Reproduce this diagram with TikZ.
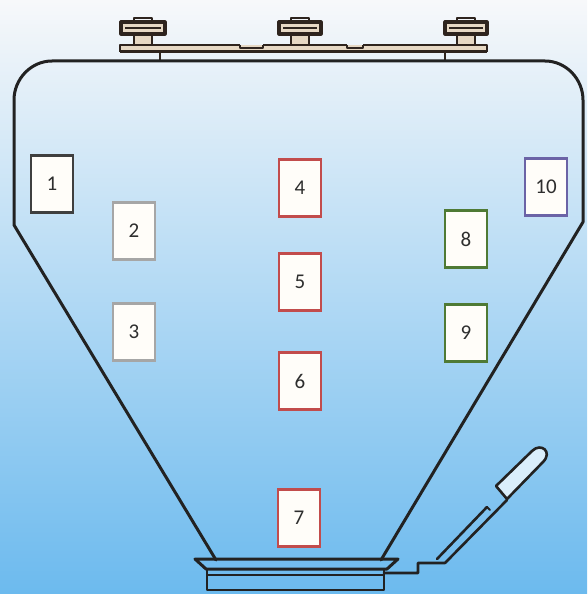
\documentclass[tikz,border=0pt]{standalone}
\usepackage{fontspec}
\setmainfont{Carlito}
\begin{document}
\begin{tikzpicture}[x=1pt,y=-1pt,
  wall/.style={draw=wallc,line width=3pt,line join=round,line cap=round},
  metal/.style={draw=brownc,line width=2.6pt,line join=round},
  part/.style={draw=wallc,line width=2.6pt,line join=round,line cap=round},
  tag/.style={rectangle,minimum width=42pt,minimum height=57pt,inner sep=0pt,
    fill=tagfill,line width=2.3pt,text=tagtext,
    font=\fontsize{21pt}{21pt}\selectfont}]
\definecolor{wallc}{HTML}{222222}
\definecolor{brownc}{HTML}{2E241E}
\definecolor{beige}{HTML}{E6D8C4}
\definecolor{tagfill}{HTML}{FFFDF9}
\definecolor{tagtext}{HTML}{2E2E2E}
\definecolor{bgtop}{HTML}{F7F8FA}
\definecolor{bgmid}{HTML}{C6E0F5}
\definecolor{bgbot}{HTML}{6CBAEE}
\definecolor{edgedark}{HTML}{3F3F3F}
\definecolor{edgegray}{HTML}{A6A6A6}
\definecolor{edgered}{HTML}{C24C4C}
\definecolor{edgegreen}{HTML}{4F7A35}
\definecolor{edgeviolet}{HTML}{6B63A6}

% background
\shade[top color=bgtop,middle color=bgmid,bottom color=bgbot] (0,0) rectangle (587,594);
\useasboundingbox (0,0) rectangle (587,594);

% lid plate
\fill[beige] (120,45) rectangle (487,52);
\draw[metal,line width=3pt] (120,52) -- (487,52);
\draw[metal] (120,52) -- (120,45) -- (240,45);
\draw[metal] (263,45) -- (347,45);
\draw[metal] (363,45) -- (487,45) -- (487,52);
\draw[metal,line width=1.8pt] (240,45) -- (240,48) -- (263,48) -- (263,45);
\draw[metal,line width=1.8pt] (347,45) -- (347,48) -- (363,48) -- (363,45);
\draw[metal,line width=2pt] (160,52) -- (160,61);
\draw[metal,line width=2pt] (445,52) -- (445,61);

% knobs on the lid
\foreach \cx/\hw in {143/22,300/21,466/21}{
  \draw[metal,fill=beige,line width=2.4pt] (\cx-9,34) rectangle (\cx+9,45);
  \draw[metal,fill=beige,line width=3.2pt] (\cx-\hw,22) rectangle (\cx+\hw,34);
  \draw[metal,line width=1.2pt] (\cx-\hw+4,28) -- (\cx+\hw-4,28);
  \draw[metal,line width=2.6pt] (\cx-9,22) -- (\cx-9,18) -- (\cx+9,18) -- (\cx+9,22);
}

% hopper body
\draw[wall] (216,560) -- (14,225) -- (14,100)
  .. controls (14,79) and (31,61) .. (52,61) -- (545,61)
  .. controls (566,61) and (583,79) .. (583,100) -- (583,222) -- (381,560);

% outlet flange
\draw[part,line width=3pt] (195,559) -- (398,559) -- (387,569) -- (206,569) -- cycle;
\draw[part] (207,569) rectangle (384,590);
\draw[part,line width=1.8pt] (207,575) -- (384,575);

% drain pipe with handle
\draw[part] (384,573) -- (418,573) -- (418,563) -- (445,563) -- (507,500);
\draw[part] (437,559) -- (487,507);
\draw[part,line width=2pt] (487,507) -- (490,510);
\draw[part,fill=white!75!bgbot] (507,499) -- (496,486) -- (532,451)
  .. controls (541,442) and (553,452) .. (543,462) -- cycle;

% numbered sensor tags
\node[tag,draw=edgedark]   (t1)  at (52,184)  {1};
\node[tag,draw=edgegray]   (t2)  at (134,231) {2};
\node[tag,draw=edgegray]   (t3)  at (134,332) {3};
\node[tag,draw=edgered]    (t4)  at (300,188) {4};
\node[tag,draw=edgered]    (t5)  at (300,282) {5};
\node[tag,draw=edgered]    (t6)  at (300,381) {6};
\node[tag,draw=edgered]    (t7)  at (299,518) {7};
\node[tag,draw=edgegreen]  (t8)  at (466,239) {8};
\node[tag,draw=edgegreen]  (t9)  at (466,333) {9};
\node[tag,draw=edgeviolet] (t10) at (546,187) {10};
\end{tikzpicture}
\end{document}
